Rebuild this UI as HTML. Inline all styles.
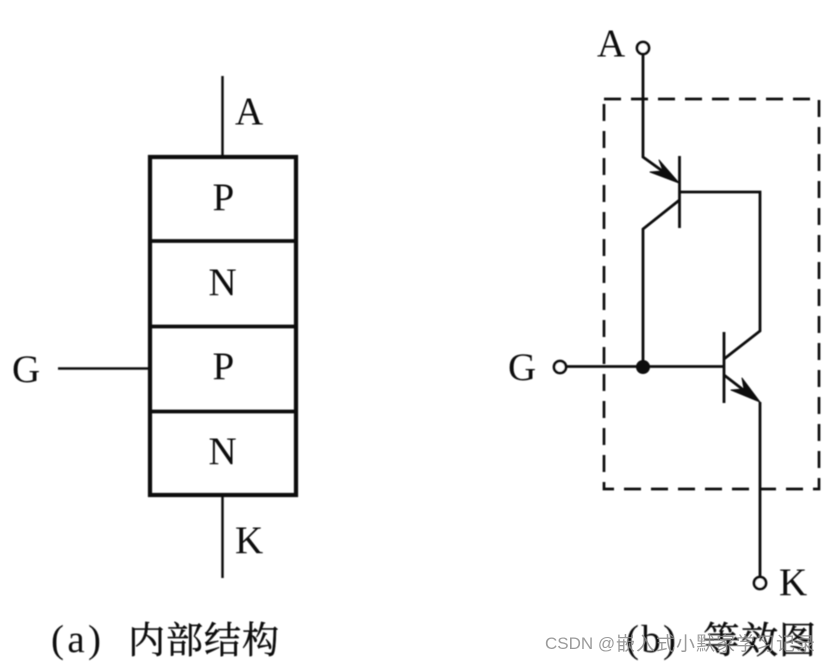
<!DOCTYPE html>
<html><head><meta charset="utf-8"><style>
html,body{margin:0;padding:0;background:#fff;width:831px;height:664px;overflow:hidden}
svg{display:block}
.t{font-family:"Liberation Serif","Noto Serif CJK SC",serif;fill:#111}
.c{stroke:#111;stroke-width:.5}
.w{font-family:"Liberation Sans","Noto Sans CJK SC",sans-serif;fill:#8a8a8a;fill-opacity:.85}
</style></head><body>
<svg width="831" height="664" viewBox="0 0 831 664" xmlns="http://www.w3.org/2000/svg">
<defs><filter id="b" x="-5%" y="-5%" width="110%" height="110%"><feGaussianBlur stdDeviation="0.45"/></filter></defs>
<g filter="url(#b)">
<rect x="150" y="157" width="146" height="338" fill="none" stroke="#111" stroke-width="4.200"/>
<g stroke="#111" fill="none">
<path d="M150 241H296M150 326.500H296M150 411.500H296" stroke-width="3.800"/>
<path d="M222.500 76V157M222.500 495V578M58 368.500H150" stroke-width="2.500"/>
<rect x="604" y="99" width="215" height="390" stroke-width="2.700" stroke-dasharray="17 10"/>
<path d="M643 54V157L668 175" stroke-width="2.800"/>
<path d="M679.500 156V228M724 332V403" stroke-width="2.800"/>
<path d="M679.500 192H760V331L724 359" stroke-width="2.800"/>
<path d="M679.500 200L643 229V366" stroke-width="2.800"/>
<path d="M566 366.500H724" stroke-width="2.800"/>
<path d="M724 375L750 395M760 402V578" stroke-width="2.800"/>
<circle cx="643" cy="48" r="6" stroke-width="2.800" fill="#fff"/>
<circle cx="560" cy="367" r="6" stroke-width="2.800" fill="#fff"/>
<circle cx="760" cy="583" r="6" stroke-width="2.800" fill="#fff"/>
</g>
<circle cx="643" cy="367" r="7" fill="#111"/>
<path d="M679 183L650 172L663 171L659 160Z" fill="#111" stroke="#111" stroke-width="1" stroke-linejoin="round"/>
<path d="M760 402L731 390L744 389L742 378Z" fill="#111" stroke="#111" stroke-width="1" stroke-linejoin="round"/>
<g class="t" font-size="39">
<text x="235" y="124">A</text>
<text x="212.500" y="210">P</text>
<text x="208.500" y="295">N</text>
<text x="212.500" y="379">P</text>
<text x="208.500" y="464">N</text>
<text x="235" y="553">K</text>
<text x="12" y="382">G</text>
<text x="597" y="56">A</text>
<text x="508" y="380">G</text>
<text x="779" y="595">K</text>
<text x="51" y="652" textLength="50">(a)</text>
<text x="128" y="653" class="c" font-size="37" textLength="151">内部结构</text>
<text x="626" y="652" textLength="50">(b)</text>
<text x="703" y="653" class="c" font-size="37" textLength="113">等效图</text>
</g>
</g>
<text x="545" y="649" class="w" font-size="17">CSDN @</text>
<text x="616" y="650" class="w" font-size="19" textLength="199">嵌入式小默家学习记录</text>
</svg>
</body></html>
